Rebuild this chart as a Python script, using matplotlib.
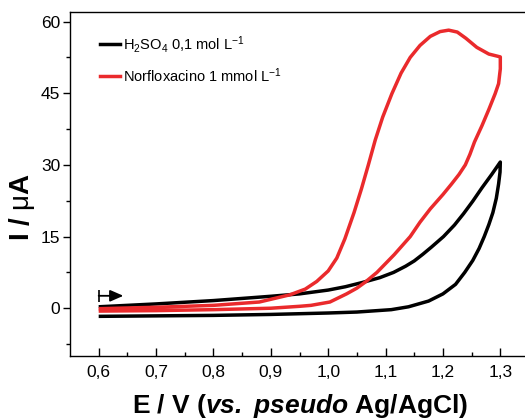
import matplotlib
matplotlib.use("Agg")
import matplotlib.pyplot as plt
from matplotlib.lines import Line2D

plt.rcParams['font.family'] = ['Liberation Sans', 'DejaVu Sans']
plt.rcParams['mathtext.fontset'] = 'custom'
plt.rcParams['mathtext.rm'] = 'Liberation Sans'
plt.rcParams['mathtext.it'] = 'Liberation Sans:italic'
plt.rcParams['mathtext.bf'] = 'Liberation Sans:bold'
plt.rcParams['mathtext.bfit'] = 'Liberation Sans:italic:bold'

# ---- data (E in V, I in uA) ----
black_fwd_E = [0.60, 0.70, 0.80, 0.90, 0.95, 1.00, 1.03, 1.06, 1.09, 1.114, 1.135, 1.15, 1.165, 1.18,
               1.201, 1.22, 1.236, 1.252, 1.268, 1.285, 1.30]
black_fwd_I = [0.3, 0.9, 1.6, 2.5, 3.0, 3.8, 4.5, 5.4, 6.4, 7.5, 8.8, 9.9, 11.3, 12.8,
               15.0, 17.4, 19.8, 22.4, 25.2, 28.0, 30.6]
black_rev_E = [1.30, 1.2995, 1.297, 1.293, 1.287, 1.280, 1.272, 1.263, 1.252, 1.238, 1.222, 1.200,
               1.175, 1.14, 1.11, 1.05, 1.00, 0.90, 0.80, 0.70, 0.60]
black_rev_I = [30.6, 28.5, 26.0, 23.0, 20.0, 17.5, 15.0, 12.5, 10.0, 7.5, 5.0, 3.0,
               1.5, 0.3, -0.3, -0.8, -1.0, -1.3, -1.5, -1.6, -1.7]

red_fwd_E = [0.60, 0.70, 0.80, 0.88, 0.933, 0.96, 0.98, 1.00, 1.015, 1.029, 1.045, 1.058, 1.070, 1.082,
             1.095, 1.111, 1.127, 1.143, 1.16, 1.178, 1.195, 1.210, 1.225, 1.240, 1.259, 1.28, 1.30]
red_fwd_I = [-0.1, 0.2, 0.6, 1.3, 2.8, 4.0, 5.6, 7.8, 10.5, 14.5, 20.0, 25.0, 30.0, 35.2,
             40.0, 44.9, 49.2, 52.5, 55.0, 56.9, 57.9, 58.2, 57.8, 56.5, 54.6, 53.2, 52.6]
red_rev_E = [1.30, 1.30, 1.297, 1.291, 1.280, 1.268, 1.255, 1.247, 1.239, 1.228, 1.215, 1.200, 1.178,
             1.160, 1.143, 1.115, 1.085, 1.065, 1.05, 1.032, 1.003, 0.97, 0.95, 0.90, 0.80, 0.70, 0.60]
red_rev_I = [52.6, 50.1, 47.0, 44.9, 41.6, 38.2, 34.8, 32.2, 30.0, 28.0, 26.0, 23.8, 20.8,
             18.0, 15.0, 11.2, 7.5, 5.5, 4.2, 3.0, 1.3, 0.6, 0.4, 0.0, -0.3, -0.5, -0.6]

labels = [r'H$_2$SO$_4$ 0,1 mol L$^{-1}$', r'Norfloxacino 1 mmol L$^{-1}$']
colors = ['#000000', '#ea2a2c']

x_ticks = [0.6, 0.7, 0.8, 0.9, 1.0, 1.1, 1.2, 1.3]
x_ticklabels = ['0,6', '0,7', '0,8', '0,9', '1,0', '1,1', '1,2', '1,3']
y_ticks = [0, 15, 30, 45, 60]
y_ticklabels = ['0', '15', '30', '45', '60']

arrow_start = (0.60, 2.6)
arrow_end = (0.643, 2.6)

# ---- figure ----
fig = plt.figure(figsize=(5.25, 4.2), dpi=100)
ax = fig.add_axes([70/525, 1-356/420, 459/525, 344/420])

lw = 2.5
ax.plot(black_fwd_E + black_rev_E, black_fwd_I + black_rev_I, color=colors[0], lw=lw,
        solid_joinstyle='round', solid_capstyle='butt')
ax.plot(red_fwd_E + red_rev_E, red_fwd_I + red_rev_I, color=colors[1], lw=lw,
        solid_joinstyle='round', solid_capstyle='butt')

ax.set_xlim(0.55, 1.35)
ax.set_ylim(-10, 62)

ax.set_xticks(x_ticks, x_ticklabels)
ax.set_yticks(y_ticks, y_ticklabels)
ax.set_xticks([0.65, 0.75, 0.85, 0.95, 1.05, 1.15, 1.25], minor=True)
ax.set_yticks([-7.5, 7.5, 22.5, 37.5, 52.5], minor=True)

ax.tick_params(axis='x', which='major', direction='in', length=6, width=1, labelsize=12.5, pad=6.5)
ax.tick_params(axis='x', which='minor', direction='in', length=3, width=1)
ax.tick_params(axis='y', which='major', direction='out', length=5, width=1, labelsize=12.5, pad=2)
ax.tick_params(axis='y', which='minor', direction='out', length=3, width=1)
for s in ax.spines.values():
    s.set_linewidth(1.0)

# start arrow
ax.plot([arrow_start[0]], [arrow_start[1]], marker='|', markersize=8, mew=1.2, color='black')
ax.annotate('', xy=arrow_end, xytext=arrow_start,
            arrowprops=dict(arrowstyle='-|>,head_length=0.8,head_width=0.35', color='black', lw=1.3,
                            shrinkA=0, shrinkB=0))

handles = [Line2D([0], [0], color=c, lw=2.5) for c in colors]
leg = ax.legend(handles, labels, loc='upper left', bbox_to_anchor=(30/459, 1-22/344),
                frameon=False, fontsize=10.5, handlelength=1.4, handletextpad=0.15,
                labelspacing=0.75, borderaxespad=0, borderpad=0)

fig.text(300/525, 1-413/420, r'E / V ($\mathbfit{vs.\ pseudo}$ Ag/AgCl)', fontsize=19,
         fontweight='bold', ha='center', va='baseline')
fig.text(22/525, 1-207/420, r'$\mathbf{I\ /\ }\mathrm{μ}\mathbf{A}$', fontsize=20, rotation=90,
         ha='center', va='center')

fig.savefig('out.png', dpi=100)
